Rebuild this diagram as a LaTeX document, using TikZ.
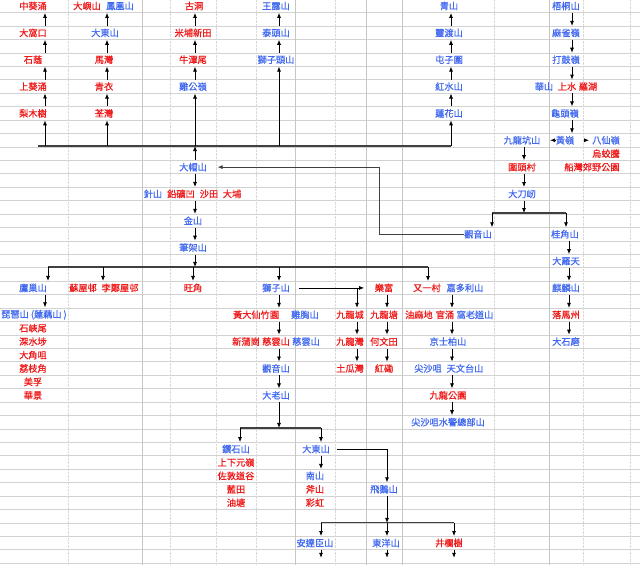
\documentclass[tikz,border=0pt]{standalone}
\usepackage{fontspec}
\setmainfont{Noto Sans CJK TC}[FakeBold=0.6]
\usetikzlibrary{arrows.meta}
\definecolor{hillblue}{RGB}{65,105,240}
\definecolor{placered}{RGB}{240,25,25}

\begin{document}
\begin{tikzpicture}[x=1pt, y=-13.425pt,
    every node/.style={font=\fontsize{9.2}{10}\selectfont, inner sep=0.5pt},
    hill/.style={text=hillblue},
    place/.style={text=placered},
    arr/.style={-{Latex[length=5pt,width=4pt]}, line width=0.75pt},
    link/.style={arr, shorten <=2pt, shorten >=2pt},
    bar/.style={line width=1.2pt, black!75}]

\useasboundingbox[fill=white] (0,-0.447) rectangle (640,41.64);

% spreadsheet grid
\foreach \row in {0,...,41}
  \draw[gray!35, line width=0.7pt] (0,\row+0.5) -- (640,\row+0.5);
\foreach \x in {142,295,366,402,549}
  \draw[gray!45, line width=0.6pt] (\x,-0.447) -- (\x,41.64);
\foreach \x in {68,170,216,256,335,494,583,630}
  \draw[gray!30, densely dotted] (\x,-0.447) -- (\x,41.64);

% columns of arrows
\coordinate (c1) at (45,0);
\coordinate (c2) at (107,0);
\coordinate (c3) at (195,0);
\coordinate (c4) at (279,0);
\coordinate (c5) at (451,0);
\coordinate (c6) at (572,0);
\coordinate (c7) at (524,0);
\coordinate (c8) at (569,0);
\coordinate (lr) at (357,0);
\coordinate (lf) at (387,0);
\coordinate (kc) at (452,0);
\coordinate (ky) at (387,0);
\coordinate (loop) at (379,0);
\coordinate (b2) at (103,0);
\coordinate (exit) at (0,41.1);

% branch lines
\coordinate (topw) at (38,10.43);   \coordinate (tope) at (451,10.43);
\coordinate (dw) at (492,15.42);    \coordinate (de) at (566,15.42);
\coordinate (midw) at (48,19.44);   \coordinate (mide) at (428,19.44);
\coordinate (tw) at (240,31.43);    \coordinate (te) at (321,31.43);
\coordinate (fw) at (321,38.5);     \coordinate (fe) at (454,38.5);

% north
\node[place] (kwaichung) at (33,0) {中葵涌};
\node[place] (taiwohau) at (33,2) {大窩口};
\node[place] (shekyam) at (33,4) {石蔭};
\node[place] (ukwaichung) at (33,6) {上葵涌};
\node[place] (leimukshue) at (33,8) {梨木樹};

\node[place] (lantau) at (87,0) {大嶼山};
\node[hill] (fungwong) at (120,0) {鳳凰山};
\node[hill] (sunset) at (105,2) {大東山};
\node[place] (mawan) at (104,4) {馬灣};
\node[place] (tsingyi) at (104,6) {青衣};
\node[place] (tsuenwan) at (104,8) {荃灣};

\node[place] (kwutung) at (194,0) {古洞};
\node[place] (maipo) at (193,2) {米埔新田};
\node[place] (ngautam) at (193,4) {牛潭尾};
\node[hill] (kaikung) at (193,6) {雞公嶺};

\node[hill] (wonglo) at (276,0) {王露山};
\node[hill] (taitau) at (276,2) {泰頭山};
\node[hill] (sztau) at (276,4) {獅子頭山};

\node[hill] (castlepeak) at (449,0) {青山};
\node[hill] (lingto) at (449,2) {靈渡山};
\node[hill] (tuntsz) at (449,4) {屯子圍};
\node[hill] (hungshui) at (449,6) {紅水山};
\node[hill] (linfa) at (449,8) {蓮花山};

\node[hill] (wutung) at (566,0) {梧桐山};
\node[hill] (mashuk) at (566,2) {麻雀嶺};
\node[hill] (takuling) at (566,4) {打鼓嶺};
\node[hill] (wahshan) at (544,6) {華山};
\node[place] (sheungshui) at (567,6) {上水};
\node[place] (lowu) at (588,6) {羅湖};
\node[hill] (kwaitau) at (565,8) {龜頭嶺};

% north east
\node[hill] (kowloonkeng) at (522,10) {九龍坑山};
\node[hill] (wongling) at (565,10) {黃嶺};
\node[hill] (patsin) at (606,10) {八仙嶺};
\node[place] (wukauteng) at (606,11) {烏蛟騰};
\node[place] (waitau) at (522,12) {圍頭村};
\node[place] (plover) at (592,12) {船灣郊野公園};
\node[hill] (taitoyan) at (522,14) {大刀屻};
\node[hill] (kunyam) at (478,17) {觀音山};
\node[hill] (kwaikok) at (565,17) {桂角山};
\node[hill] (tailotin) at (566,19) {大羅天};
\node[hill] (kilin) at (566,21) {麒麟山};
\node[place] (lokmachau) at (566,23) {落馬州};
\node[hill] (taishekmo) at (566,25) {大石磨};

% centre
\node[hill] (taimoshan) at (193,12) {大帽山};
\node[hill] (chamshan) at (153,14) {針山};
\node[place] (leadmine) at (181,14) {鉛礦凹};
\node[place] (shatin) at (209,14) {沙田};
\node[place] (taipo) at (232,14) {大埔};
\node[hill] (kamshan) at (193,16) {金山};
\node[hill] (beacon) at (193,18) {筆架山};

% kowloon
\node[hill] (eagle) at (33,21) {鷹巢山};
\node[place] (soyuen) at (83,21) {蘇屋邨};
\node[place] (leicheng) at (120,21) {李鄭屋邨};
\node[place] (mongkok) at (193,21) {旺角};
\node[hill] (lionrock) at (276,21) {獅子山};
\node[place] (lokfu) at (384,21) {樂富};
\node[place] (yauyat) at (427,21) {又一村};
\node[hill] (kadoorie) at (465,21) {嘉多利山};

\node[hill] (pipa) at (34,23) {琵琶山 (蓮藕山 )};
\node[place] (shekkipmei) at (33,24) {石峽尾};
\node[place] (shamshuipo) at (33,25) {深水埗};
\node[place] (taikoktsui) at (33,26) {大角咀};
\node[place] (laichikok) at (33,27) {荔枝角};
\node[place] (meifoo) at (33,28) {美孚};
\node[place] (wahking) at (33,29) {華景};

\node[place] (wongtaisin) at (256,23) {黃大仙竹園};
\node[hill] (kaihung) at (305,23) {雞胸山};
\node[place] (kowlooncity) at (350,23) {九龍城};
\node[place] (kowloontong) at (384,23) {九龍塘};
\node[place] (yaumatei) at (419,23) {油麻地};
\node[place] (kunchung) at (445,23) {官涌};
\node[hill] (waterloo) at (475,23) {窩老道山};

\node[place] (sanpokong) at (246,25) {新蒲崗};
\node[place] (tszwan) at (276,25) {慈雲山};
\node[hill] (tszwanshan) at (306,25) {慈雲山};
\node[place] (kowloonbay) at (350,25) {九龍灣};
\node[place] (homantin) at (384,25) {何文田};
\node[hill] (kingspark) at (448,25) {京士柏山};

\node[hill] (kunyamshan) at (276,27) {觀音山};
\node[place] (tokwawan) at (350,27) {土瓜灣};
\node[place] (hunghom) at (384,27) {紅磡};
\node[hill] (tst) at (428,27) {尖沙咀};
\node[hill] (observatory) at (465,27) {天文台山};

\node[hill] (tates) at (276,29) {大老山};
\node[place] (kowloonpark) at (448,29) {九龍公園};
\node[hill] (marine) at (448,31) {尖沙咀水警總部山};

% east kowloon
\node[hill] (diamond) at (236,33) {鑽石山};
\node[place] (shayuenling) at (236,34) {上下元嶺};
\node[place] (jordan) at (236,35) {佐敦道谷};
\node[place] (lamtin) at (236,36) {藍田};
\node[place] (yautong) at (236,37) {油塘};
\node[hill] (taitungk) at (316,33) {大東山};
\node[hill] (namshan) at (315,35) {南山};
\node[place] (fushan) at (315,36) {斧山};
\node[place] (choihung) at (315,37) {彩虹};
\node[hill] (kowyue) at (384,36) {飛鵝山};
\node[hill] (anderson) at (315,40) {安達臣山};
\node[hill] (tungyeung) at (386,40) {東洋山};
\node[place] (tsenglan) at (449,40) {井欄樹};

% connectors: north
\draw[bar] (topw) -- (tope);
\draw[arr, shorten >=2pt] (c1 |- topw) -- (c1 |- leimukshue.south);
\foreach \a/\b in {leimukshue/ukwaichung, ukwaichung/shekyam, shekyam/taiwohau, taiwohau/kwaichung}
  \draw[link] (c1 |- \a.north) -- (c1 |- \b.south);
\draw[arr, shorten >=2pt] (c2 |- topw) -- (c2 |- tsuenwan.south);
\foreach \a/\b in {tsuenwan/tsingyi, tsingyi/mawan, mawan/sunset, sunset/fungwong}
  \draw[link] (c2 |- \a.north) -- (c2 |- \b.south);
\draw[arr, shorten >=2pt] (c3 |- topw) -- (c3 |- kaikung.south);
\foreach \a/\b in {kaikung/ngautam, ngautam/maipo, maipo/kwutung}
  \draw[link] (c3 |- \a.north) -- (c3 |- \b.south);
\draw[arr, shorten >=2pt] (c4 |- topw) -- (c4 |- sztau.south);
\foreach \a/\b in {sztau/taitau, taitau/wonglo}
  \draw[link] (c4 |- \a.north) -- (c4 |- \b.south);
\draw[arr, shorten >=2pt] (c5 |- topw) -- (c5 |- linfa.south);
\foreach \a/\b in {linfa/hungshui, hungshui/tuntsz, tuntsz/lingto, lingto/castlepeak}
  \draw[link] (c5 |- \a.north) -- (c5 |- \b.south);
\foreach \a/\b in {wutung/mashuk, mashuk/takuling, takuling/sheungshui, sheungshui/kwaitau, kwaitau/wongling}
  \draw[link] (c6 |- \a.south) -- (c6 |- \b.north);

% connectors: north east
\draw[arr, shorten >=9pt] (wongling.west) -- (kowloonkeng.east);
\draw[arr, shorten <=9.5pt, shorten >=2.5pt] (wongling.east) -- (patsin.west);
\draw[link] (c7 |- kowloonkeng.south) -- (c7 |- waitau.north);
\draw[link] (c7 |- waitau.south) -- (c7 |- taitoyan.north);
\draw[arr, shorten <=2pt] (c7 |- taitoyan.south) -- (c7 |- dw);
\draw[bar] (dw) -- (de);
\draw[arr, shorten >=2pt] (dw) -- (dw |- kunyam.north);
\draw[arr, shorten >=2pt] (de) -- (de |- kwaikok.north);
\foreach \a/\b in {kwaikok/tailotin, tailotin/kilin, kilin/lokmachau, lokmachau/taishekmo}
  \draw[link] (c8 |- \a.south) -- (c8 |- \b.north);
\draw[arr, black!75, line width=0.9pt, shorten >=10pt] (kunyam.west) -- (loop |- kunyam.west) |- (taimoshan.east);

% connectors: centre
\draw[arr, shorten <=2pt] (c3 |- taimoshan.north) -- (c3 |- topw);
\draw[link] (c3 |- taimoshan.south) -- (c3 |- leadmine.north);
\draw[link] (c3 |- leadmine.south) -- (c3 |- kamshan.north);
\draw[link] (c3 |- kamshan.south) -- (c3 |- beacon.north);
\draw[arr, shorten <=2pt] (c3 |- beacon.south) -- (c3 |- midw);
\draw[bar] (midw) -- (mide);
\draw[arr, shorten >=2pt] (midw) -- (midw |- eagle.north);
\draw[arr, shorten >=2pt] (b2 |- midw) -- (b2 |- soyuen.north);
\draw[arr, shorten >=2pt] (mongkok |- midw) -- (mongkok.north);
\draw[arr, shorten >=2pt] (c4 |- midw) -- (c4 |- lionrock.north);
\draw[arr, shorten >=2pt] (mide) -- (mide |- yauyat.north);

% connectors: kowloon
\draw[link] (c1 |- eagle.south) -- (c1 |- pipa.north);
\draw[arr, shorten <=8pt, shorten >=10pt] (lionrock.east) -- (lokfu.west);
\draw[arr, shorten >=2pt] (lr |- lokfu.west) -- (lr |- kowlooncity.north);
\foreach \a/\b in {kowlooncity/kowloonbay, kowloonbay/tokwawan}
  \draw[link] (lr |- \a.south) -- (lr |- \b.north);
\foreach \a/\b in {lokfu/kowloontong, kowloontong/homantin, homantin/hunghom}
  \draw[link] (lf |- \a.south) -- (lf |- \b.north);
\foreach \a/\b in {lionrock/wongtaisin, wongtaisin/tszwan, tszwan/kunyamshan, kunyamshan/tates}
  \draw[link] (c4 |- \a.south) -- (c4 |- \b.north);
\foreach \a/\b in {kadoorie/kunchung, kunchung/kingspark, kingspark/tst, tst/kowloonpark, kowloonpark/marine}
  \draw[link] (kc |- \a.south) -- (kc |- \b.north);

% connectors: east kowloon
\draw[arr, shorten <=2pt] (c4 |- tates.south) -- (c4 |- tw);
\draw[bar] (tw) -- (te);
\draw[arr, shorten >=2pt] (tw) -- (tw |- diamond.north);
\draw[arr, shorten >=2pt] (te) -- (te |- taitungk.north);
\draw[link] (te |- taitungk.south) -- (te |- namshan.north);
\draw[arr, shorten <=6pt, shorten >=2pt] (taitungk.east) -- (ky |- taitungk.east) -- (ky |- kowyue.north);
\draw[arr, shorten <=2pt] (ky |- kowyue.south) -- (ky |- fw);
\draw[bar] (fw) -- (fe);
\draw[arr, shorten >=2pt] (fw) -- (fw |- anderson.north);
\draw[arr, shorten >=2pt] (ky |- fw) -- (ky |- tungyeung.north);
\draw[arr, shorten >=2pt] (fe) -- (fe |- tsenglan.north);
\draw[arr, shorten <=2pt] (fw |- anderson.south) -- (fw |- exit);
\draw[arr, shorten <=2pt] (ky |- tungyeung.south) -- (ky |- exit);
\draw[arr, shorten <=2pt] (fe |- tsenglan.south) -- (fe |- exit);
\end{tikzpicture}
\end{document}
